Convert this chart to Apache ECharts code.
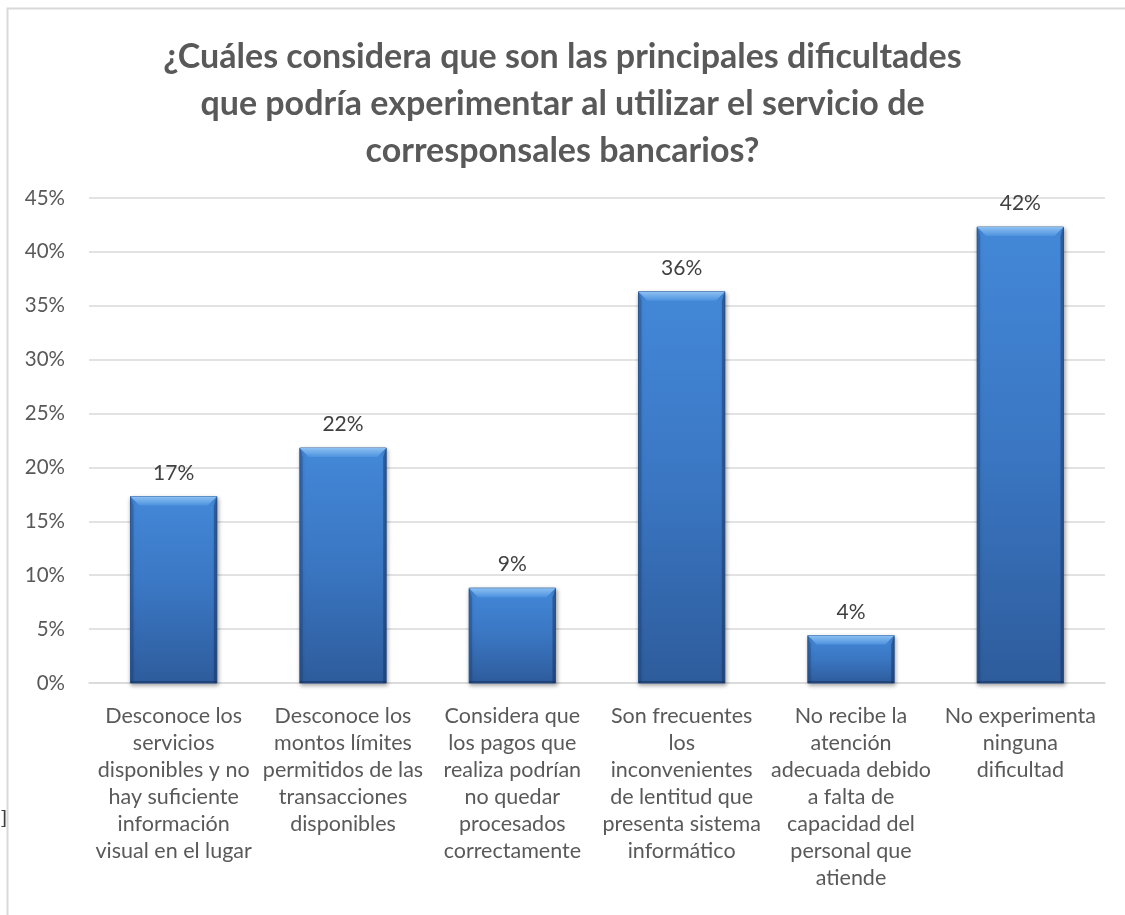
<!DOCTYPE html>
<html>
<head>
<meta charset="utf-8">
<script src="https://cdn.jsdelivr.net/npm/echarts@6/dist/echarts.min.js"></script>
<style>
  html, body { margin: 0; padding: 0; background: #ffffff; }
  #chart { width: 1125px; height: 915px; }
</style>
</head>
<body>
<div id="chart"></div>
<script>
// Survey answers (percent of respondents)
const categories = [
  'Desconoce los\nservicios\ndisponibles y no\nhay suficiente\ninformación\nvisual en el lugar',
  'Desconoce los\nmontos límites\npermitidos de las\ntransacciones\ndisponibles',
  'Considera que\nlos pagos que\nrealiza podrían\nno quedar\nprocesados\ncorrectamente',
  'Son frecuentes\nlos\ninconvenientes\nde lentitud que\npresenta sistema\ninformático',
  'No recibe la\natención\nadecuada debido\na falta de\ncapacidad del\npersonal que\natiende',
  'No experimenta\nninguna\ndificultad'
];
const values = [17.3, 21.8, 8.8, 36.3, 4.4, 42.3];
const yTicks = [0, 5, 10, 15, 20, 25, 30, 35, 40, 45];

const titleText = '¿Cuáles considera que son las principales dificultades\nque podría experimentar al utilizar el servicio de\ncorresponsales bancarios?';
const FONT = 'Lato, "Open Sans", sans-serif';

const chart = echarts.init(document.getElementById('chart'), null, { renderer: 'canvas' });

// Bevelled column: body gradient, light top bevel, darker side edges, value label above
function renderBevelBar(params, api) {
  const cat = api.value(0);
  const val = api.value(1);
  const top = api.coord([cat, val]);
  const base = api.coord([cat, 0]);
  const bw = api.size([1, 0])[0] * 0.51;
  const l = top[0] - bw / 2, r = top[0] + bw / 2;
  const t = top[1], b = base[1];
  const h = b - t;
  const bev = Math.min(9, h / 2);
  const edge = Math.min(3, bw / 10);
  return {
    type: 'group',
    children: [
      {
        type: 'rect',
        shape: { x: l, y: t, width: bw, height: h },
        style: {
          fill: new echarts.graphic.LinearGradient(0, 0, 0, 1, [
            { offset: 0, color: '#4388d8' },
            { offset: 0.5, color: '#3a76c2' },
            { offset: 1, color: '#2e5c9c' }
          ]),
          stroke: '#2f5c98',
          lineWidth: 1,
          shadowBlur: 4,
          shadowOffsetX: 1,
          shadowOffsetY: 2,
          shadowColor: 'rgba(0,0,0,0.35)'
        }
      },
      {
        // left edge
        type: 'polygon',
        shape: { points: [[l, t], [l + edge, t + bev], [l + edge, b], [l, b]] },
        style: { fill: 'rgba(30,60,110,0.35)' }
      },
      {
        // right edge
        type: 'polygon',
        shape: { points: [[r, t], [r - edge, t + bev], [r - edge, b], [r, b]] },
        style: { fill: 'rgba(20,45,90,0.45)' }
      },
      {
        // bottom edge
        type: 'rect',
        shape: { x: l, y: b - 2, width: bw, height: 2 },
        style: { fill: 'rgba(20,40,80,0.45)' }
      },
      {
        // top bevel
        type: 'polygon',
        shape: { points: [[l, t], [r, t], [r - bev, t + bev], [l + bev, t + bev]] },
        style: {
          fill: new echarts.graphic.LinearGradient(0, 0, 0, 1, [
            { offset: 0, color: '#8cc0f2' },
            { offset: 1, color: '#4d92de' }
          ])
        }
      },
      {
        type: 'text',
        style: {
          text: Math.round(val) + '%',
          x: top[0],
          y: t - 13,
          align: 'center',
          verticalAlign: 'bottom',
          fill: '#404040',
          font: '21px ' + FONT
        }
      }
    ]
  };
}

chart.setOption({
  animation: false,
  backgroundColor: '#ffffff',
  title: {
    text: titleText,
    left: 'center',
    top: 29,
    textStyle: {
      fontFamily: FONT,
      fontWeight: 'bold',
      fontSize: 34,
      lineHeight: 47,
      color: '#595959'
    }
  },
  graphic: [
    {
      type: 'rect',
      shape: { x: 7.5, y: 8.5, width: 1300, height: 1100 },
      style: { fill: 'none', stroke: '#d9d9d9', lineWidth: 2 },
      silent: true
    },
    {
      type: 'text',
      left: 0,
      top: 810,
      style: { text: ']', fill: '#404040', font: '18px "DejaVu Serif", serif' }
    }
  ],
  grid: { left: 89, right: 20, top: 198, bottom: 232, containLabel: false },
  xAxis: {
    type: 'category',
    data: categories,
    axisLine: { show: true, lineStyle: { color: '#d9d9d9', width: 1.5 } },
    axisTick: { show: false },
    axisLabel: {
      interval: 0,
      margin: 20,
      fontFamily: FONT,
      fontSize: 21.5,
      lineHeight: 27,
      color: '#595959',
      align: 'center'
    }
  },
  yAxis: {
    type: 'value',
    min: 0,
    max: 45,
    interval: 5,
    axisLine: { show: false },
    axisTick: { show: false },
    splitLine: { lineStyle: { color: '#d9d9d9', width: 1.5 } },
    axisLabel: {
      margin: 24,
      fontFamily: FONT,
      fontSize: 20.5,
      color: '#595959',
      formatter: v => (yTicks.indexOf(v) >= 0 ? v + '%' : '')
    }
  },
  series: [
    {
      type: 'custom',
      renderItem: renderBevelBar,
      data: values.map((v, i) => [i, v]),
      encode: { x: 0, y: 1 },
      clip: false
    }
  ]
});
</script>
</body>
</html>
